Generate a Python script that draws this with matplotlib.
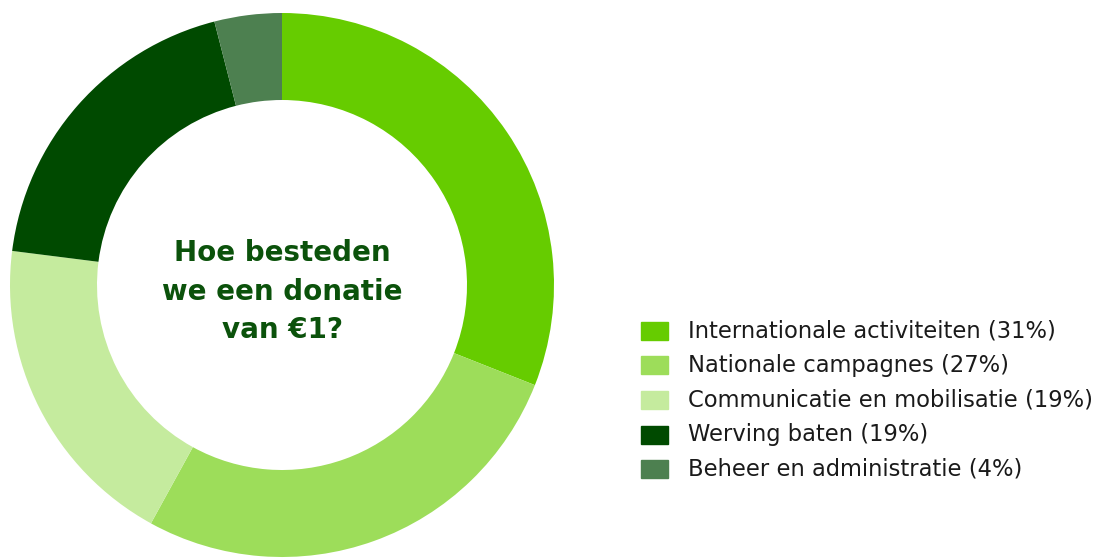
import matplotlib
matplotlib.use("Agg")
import matplotlib.pyplot as plt
from matplotlib.patches import Rectangle

categories = ["Internationale activiteiten", "Nationale campagnes",
              "Communicatie en mobilisatie", "Werving baten",
              "Beheer en administratie"]
shares = [31, 27, 19, 19, 4]
colors = ["#66cc00", "#9ddd5a", "#c5eb9e", "#004a00", "#4d8050"]
title_lines = ["Hoe besteden", "we een donatie", "van €1?"]

W, H = 1100, 558
fig = plt.figure(figsize=(W / 100, H / 100), dpi=100)

# donut: centre (282, 285) px, outer radius 272 px, inner 185 px
cx, cy, r = 282, 285, 272
ax = fig.add_axes([(cx - r) / W, (H - cy - r) / H, 2 * r / W, 2 * r / H])
ax.pie(shares, colors=colors, startangle=90, counterclock=False, radius=1,
       wedgeprops=dict(width=1 - 185 / 272, linewidth=0))
ax.set_xlim(-1, 1)
ax.set_ylim(-1, 1)
ax.set_aspect("equal")
ax.axis("off")

# title in the hole
for i, line in enumerate(title_lines):
    fig.text(cx / W, 1 - (253 + 38.5 * i) / H, line, ha="center", va="center",
             fontsize=20, fontweight="bold", color="#0b520b", family="DejaVu Sans")

# legend
for i, (cat, s, c) in enumerate(zip(categories, shares, colors)):
    yc = 330.5 + 34.7 * i
    fig.patches.append(Rectangle((641 / W, 1 - (yc + 9) / H), 27 / W, 18 / H,
                                 transform=fig.transFigure, color=c))
    fig.text(688 / W, 1 - yc / H, f"{cat} ({s}%)", ha="left", va="center",
             fontsize=16.3, color="#1a1a1a", family="DejaVu Sans")

fig.savefig("out.png", dpi=100)
